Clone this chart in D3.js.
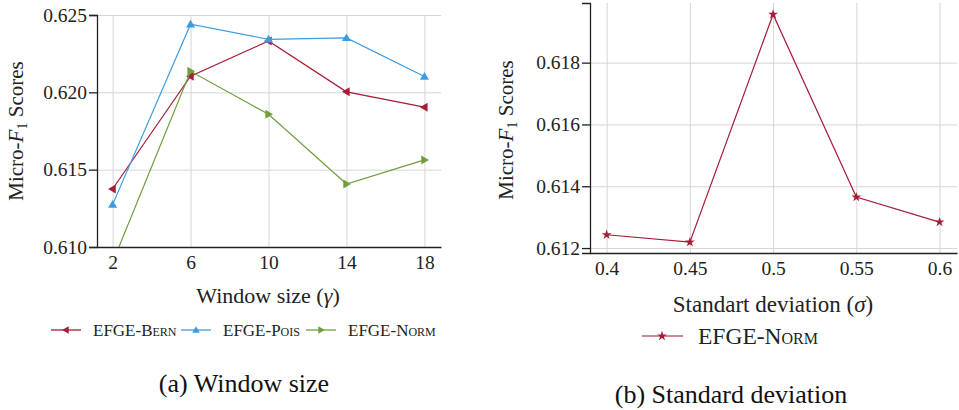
<!DOCTYPE html>
<html>
<head>
<meta charset="utf-8">
<script src="https://cdn.jsdelivr.net/npm/d3@7"></script>
<style>
  body { margin: 0; background: #fff; }
  svg text { font-family: "Liberation Serif", "DejaVu Serif", serif; }
  .grid line { stroke: #d6d6d6; stroke-width: 1; }
  .grid path { display: none; }
  .axis path, .axis line { stroke: #222; stroke-width: 1.3; }
  .axis text { font-size: 19.5px; fill: #222; }
</style>
</head>
<body>
<svg width="959" height="410"></svg>
<script>
// left panel: window size
const windowSizes = [2, 6, 10, 14, 18]
const bernScores = [0.61375, 0.62104, 0.62332, 0.62003, 0.61904]
const poisScores = [0.61274, 0.62440, 0.62343, 0.62352, 0.62102]
const normScores = [0.60900, 0.62136, 0.61858, 0.61407, 0.61563]
const leftYTicks = [0.610, 0.615, 0.620, 0.625]

// right panel: standard deviation
const sigmas = [0.4, 0.45, 0.5, 0.55, 0.6]
const sigmaScores = [0.61243, 0.61219, 0.61956, 0.61365, 0.61284]
const rightYTicks = [0.612, 0.614, 0.616, 0.618]

const red = '#a51d36'
const blue = '#3c9ce0'
const green = '#6f9e3b'
const serif = '"Liberation Serif", "DejaVu Serif", serif'

const svg = d3.select('svg')

// clip for left plot (green line goes below the axis)
svg.append('defs').append('clipPath').attr('id', 'clipL')
  .append('rect').attr('x', 97).attr('y', 0).attr('width', 345).attr('height', 247)

// ---------- left plot ----------
const xL = d3.scaleLinear().domain([1.2, 18.85]).range([97, 441])
const yL = d3.scaleLinear().domain([0.610, 0.625]).range([247, 15])

svg.append('g').attr('class', 'grid')
  .attr('transform', 'translate(0,247)')
  .call(d3.axisBottom(xL).tickValues(windowSizes).tickSize(-232).tickFormat(''))
svg.append('g').attr('class', 'grid')
  .attr('transform', 'translate(97,0)')
  .call(d3.axisLeft(yL).tickValues(leftYTicks).tickSize(-344).tickFormat(''))

svg.append('g').attr('class', 'axis')
  .attr('transform', 'translate(0,247)')
  .call(d3.axisBottom(xL).tickValues(windowSizes).tickSize(0).tickPadding(8))
  .attr('font-family', serif).attr('font-size', 19.5)
svg.append('g').attr('class', 'axis')
  .attr('transform', 'translate(97,0)')
  .call(d3.axisLeft(yL).tickValues(leftYTicks).tickSize(8).tickPadding(2).tickFormat(d3.format('.3f')))
  .attr('font-family', serif).attr('font-size', 19.5)

const seriesL = [
  { name: 'Bern', values: bernScores, color: red, shape: 'left' },
  { name: 'Pois', values: poisScores, color: blue, shape: 'up' },
  { name: 'Norm', values: normScores, color: green, shape: 'right' }
]

function triangle(shape) {
  const s = 4.5
  if (shape === 'up') return `M0,${-s}L${s},${s*0.7}L${-s},${s*0.7}Z`
  if (shape === 'left') return `M${-s},0L${s*0.7},${-s}L${s*0.7},${s}Z`
  return `M${s},0L${-s*0.7},${-s}L${-s*0.7},${s}Z`
}

const lineL = d3.line().x((d, i) => xL(windowSizes[i])).y(d => yL(d))
const plotL = svg.append('g').attr('clip-path', 'url(#clipL)')
seriesL.forEach(s => {
  plotL.append('path').attr('d', lineL(s.values))
    .attr('fill', 'none').attr('stroke', s.color).attr('stroke-width', 1.2)
  plotL.selectAll(null).data(s.values).enter().append('path')
    .attr('d', triangle(s.shape))
    .attr('transform', (d, i) => `translate(${xL(windowSizes[i])},${yL(d)})`)
    .attr('fill', s.color)
})

svg.append('text').attr('x', 268).attr('y', 303).attr('text-anchor', 'middle')
  .attr('font-family', serif).attr('font-size', 22).attr('fill', '#222')
  .html('Window size (<tspan font-style="italic">γ</tspan>)')

const yLabel = (x, y) => {
  const t = svg.append('text').attr('transform', `translate(${x},${y}) rotate(-90)`)
    .attr('text-anchor', 'middle').attr('font-family', serif).attr('font-size', 21).attr('fill', '#222')
  t.append('tspan').text('Micro-')
  t.append('tspan').attr('font-style', 'italic').text('F')
  t.append('tspan').attr('font-size', 14).attr('dy', 4).text('1')
  t.append('tspan').attr('dy', -4).text(' Scores')
}
yLabel(23, 131)

// legend left
const legX = [51, 181, 306]
seriesL.forEach((s, i) => {
  const g = svg.append('g').attr('transform', `translate(${legX[i]},330)`)
  g.append('line').attr('x1', 0).attr('x2', 30).attr('stroke', s.color).attr('stroke-width', 1.3)
  g.append('path').attr('d', triangle(s.shape)).attr('transform', 'translate(15,0) scale(0.85)').attr('fill', s.color)
  g.append('text').attr('x', 42).attr('y', 6).attr('font-family', serif).attr('font-size', 17).attr('fill', '#222')
    .attr('font-variant', 'small-caps').text('EFGE-' + s.name)
})

svg.append('text').attr('x', 244).attr('y', 392).attr('text-anchor', 'middle')
  .attr('font-family', serif).attr('font-size', 26).attr('fill', '#111').text('(a) Window size')

// ---------- right plot ----------
const xR = d3.scaleLinear().domain([0.39, 0.6105]).range([590, 957])
const yR = d3.scaleLinear().domain([0.61184, 0.61993]).range([253, 3])

svg.append('g').attr('class', 'grid')
  .attr('transform', 'translate(0,253)')
  .call(d3.axisBottom(xR).tickValues(sigmas).tickSize(-250).tickFormat(''))
svg.append('g').attr('class', 'grid')
  .attr('transform', 'translate(590,0)')
  .call(d3.axisLeft(yR).tickValues(rightYTicks).tickSize(-367).tickFormat(''))

svg.append('g').attr('class', 'axis')
  .attr('transform', 'translate(0,253)')
  .call(d3.axisBottom(xR).tickValues(sigmas).tickSize(0).tickPadding(8).tickFormat(d3.format('')))
  .attr('font-family', serif).attr('font-size', 19.5)
svg.append('g').attr('class', 'axis')
  .attr('transform', 'translate(590,0)')
  .call(d3.axisLeft(yR).tickValues(rightYTicks).tickSize(8).tickPadding(2).tickFormat(d3.format('.3f')))
  .attr('font-family', serif).attr('font-size', 19.5)

const star = d3.symbol().type(d3.symbolStar).size(30)
const lineR = d3.line().x((d, i) => xR(sigmas[i])).y(d => yR(d))
svg.append('path').attr('d', lineR(sigmaScores))
  .attr('fill', 'none').attr('stroke', red).attr('stroke-width', 1.2)
svg.selectAll(null).data(sigmaScores).enter().append('path')
  .attr('d', star)
  .attr('transform', (d, i) => `translate(${xR(sigmas[i])},${yR(d)})`)
  .attr('fill', red)

svg.append('text').attr('x', 773).attr('y', 312).attr('text-anchor', 'middle')
  .attr('font-family', serif).attr('font-size', 23).attr('fill', '#222')
  .html('Standart deviation (<tspan font-style="italic">σ</tspan>)')

yLabel(513, 130)

const legR = svg.append('g').attr('transform', 'translate(642,336)')
legR.append('line').attr('x1', 0).attr('x2', 41).attr('stroke', red).attr('stroke-width', 1.3).attr('opacity', 0.7)
legR.append('path').attr('d', star).attr('transform', 'translate(20,0)').attr('fill', red)
legR.append('text').attr('x', 56).attr('y', 8).attr('font-family', serif).attr('font-size', 23.5).attr('fill', '#222')
  .attr('font-variant', 'small-caps').text('EFGE-Norm')

svg.append('text').attr('x', 731).attr('y', 403).attr('text-anchor', 'middle')
  .attr('font-family', serif).attr('font-size', 26).attr('fill', '#111').text('(b) Standard deviation')
</script>
</body>
</html>
